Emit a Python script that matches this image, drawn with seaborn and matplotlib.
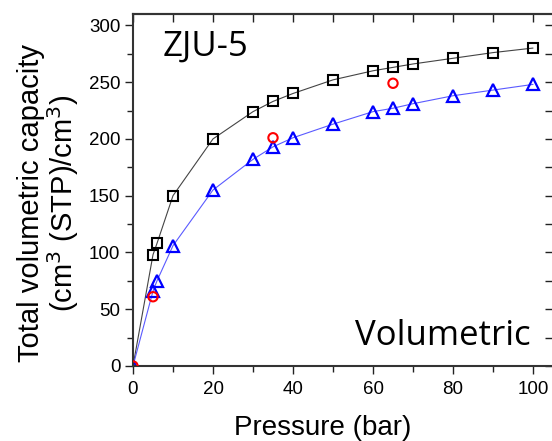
import matplotlib
matplotlib.use("Agg")
import matplotlib.pyplot as plt
import seaborn as sns
import pandas as pd

# Data
P_sq = [0, 5, 6, 10, 20, 30, 35, 40, 50, 60, 65, 70, 80, 90, 100]
V_sq = [0, 98, 108, 150, 200, 224, 233, 240, 252, 260, 263, 266, 271, 276, 280]
P_tri = [0, 5, 6, 10, 20, 30, 35, 40, 50, 60, 65, 70, 80, 90, 100]
V_tri = [0, 66, 75, 106, 155, 182, 193, 201, 213, 224, 227, 231, 238, 243, 248]
P_circ = [0, 5, 35, 65]
V_circ = [0, 61, 201, 249]
x_ticks = [0, 20, 40, 60, 80, 100]
y_ticks = [0, 50, 100, 150, 200, 250, 300]

sns.set_style("white")
plt.rcParams['font.family'] = ['Liberation Sans', 'DejaVu Sans']
plt.rcParams['text.color'] = 'black'
plt.rcParams['axes.labelcolor'] = 'black'
plt.rcParams['xtick.color'] = 'black'
plt.rcParams['ytick.color'] = 'black'

fig = plt.figure(figsize=(5.52, 4.41), dpi=100)
ax = fig.add_axes([133/552, 75/441, 420/552, 352/441])

df_sq = pd.DataFrame({"P": P_sq, "V": V_sq})
df_tri = pd.DataFrame({"P": P_tri, "V": V_tri})
df_c = pd.DataFrame({"P": P_circ, "V": V_circ})

sns.lineplot(data=df_sq, x="P", y="V", ax=ax, color="#444444", linewidth=0.8,
             marker="s", markersize=6.5, markerfacecolor="none",
             markeredgecolor="black", markeredgewidth=1.5,
             markevery=list(range(1, len(P_sq))))
sns.lineplot(data=df_tri, x="P", y="V", ax=ax, color="#5a5aff", linewidth=0.8,
             marker="^", markersize=9, markerfacecolor="none",
             markeredgecolor="#0000ff", markeredgewidth=1.6)
sns.scatterplot(data=df_c, x="P", y="V", ax=ax, marker="o", s=45,
                facecolor="none", edgecolor="#ff0000", linewidth=1.5, zorder=5)

ax.set_xlim(0, 105)
ax.set_ylim(0, 310)
ax.set_xticks(x_ticks)
ax.set_yticks(y_ticks)
ax.set_xticks(range(10, 101, 20), minor=True)
ax.set_yticks(range(25, 301, 50), minor=True)
ax.tick_params(axis='both', which='major', direction='out', length=6, width=1,
               labelsize=13.5, color='#222222', labelcolor='black')
ax.tick_params(axis='x', which='major', pad=5)
ax.tick_params(axis='y', which='major', pad=3)
ax.tick_params(axis='both', which='minor', direction='out', length=4, width=1,
               color='#222222')
ax.tick_params(bottom=True, left=True, top=False, right=False, which='both')

for s in ax.spines.values():
    s.set_color('#333333')
    s.set_linewidth(1.5)

secx = ax.secondary_xaxis('top')
secx.set_xticks(list(range(0, 101, 10)))
secx.tick_params(direction='in', length=6, width=1, labeltop=False, color='#222222')
secx.spines['top'].set_linewidth(1.5)
secx.spines['top'].set_color('#333333')
secy = ax.secondary_yaxis('right')
secy.set_yticks(list(range(0, 301, 25)))
secy.tick_params(direction='in', length=6, width=1, labelright=False, color='#222222')
secy.spines['right'].set_linewidth(1.5)
secy.spines['right'].set_color('#333333')

ax.set_xlabel("Pressure (bar)", fontsize=20, color='black')
ax.xaxis.set_label_coords(0.452, -0.14)
ax.set_ylabel("Total volumetric capacity\n(cm$^3$ (STP)/cm$^3$)", fontsize=21,
              linespacing=1.0, color='black')
ax.yaxis.set_label_coords(-0.124, 0.463)

ax.text(7.5, 273, "ZJU-5", fontsize=25, family=['Open Sans', 'DejaVu Sans'],
        ha='left', va='baseline', color='black')
ax.text(99.3, 18.5, "Volumetric", fontsize=25, family=['Open Sans', 'DejaVu Sans'],
        ha='right', va='baseline', color='black')

fig.savefig("out.png", dpi=100)
